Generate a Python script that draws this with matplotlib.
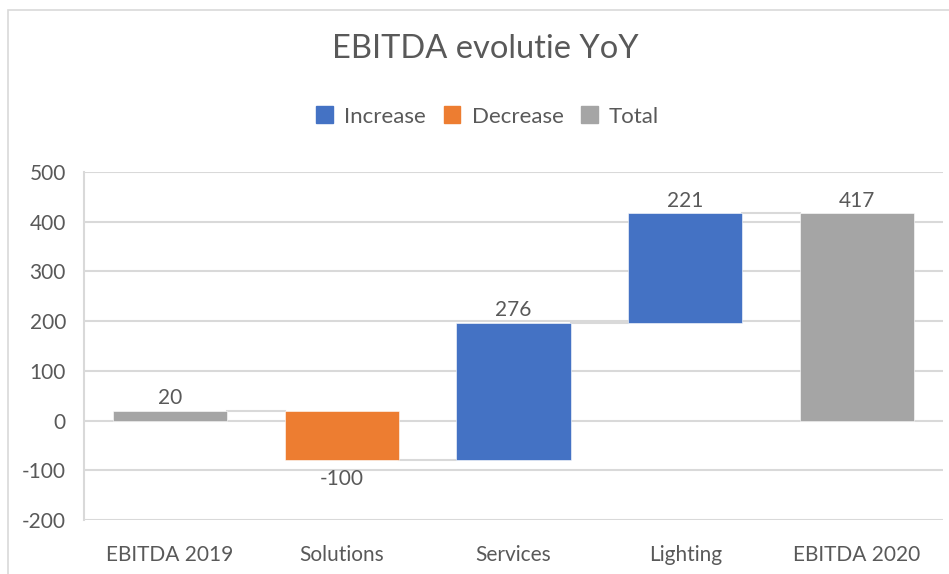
import matplotlib

matplotlib.use("Agg")
import matplotlib.pyplot as plt
from matplotlib.patches import Patch, Rectangle

# waterfall data
categorieen = ["EBITDA 2019", "Solutions", "Services", "Lighting", "EBITDA 2020"]
waarden = [20, -100, 276, 221, 417]
soorten = ["total", "decrease", "increase", "increase", "total"]

kleuren = {"increase": "#4472C4", "decrease": "#ED7D31", "total": "#A5A5A5"}
tekstkleur = "#595959"
lijnkleur = "#D9D9D9"

plt.rcParams["font.family"] = ["Lato", "DejaVu Sans"]
plt.rcParams["axes.unicode_minus"] = False

figuur = plt.figure(figsize=(9.49, 5.74), dpi=100)
eje = figuur.add_axes([0.0885, 0.0941, 0.9052, 0.6062])

# bottoms / tops from running total
onder, boven = [], []
stand = 0
for waarde, soort in zip(waarden, soorten):
    if soort == "total":
        onder.append(0)
        boven.append(waarde)
        stand = waarde
    else:
        nieuw = stand + waarde
        onder.append(min(stand, nieuw))
        boven.append(max(stand, nieuw))
        stand = nieuw

breedte = 0.665
x = list(range(len(categorieen)))
for i, soort in enumerate(soorten):
    eje.bar(x[i], boven[i] - onder[i], bottom=onder[i], width=breedte,
            color=kleuren[soort], edgecolor="white", linewidth=0.4, zorder=3)

# connector lines
stand = 0
for i in range(len(waarden) - 1):
    if soorten[i] == "total":
        stand = waarden[i]
    else:
        stand = stand + waarden[i]
    eje.plot([x[i] + breedte / 2, x[i + 1] - breedte / 2], [stand, stand],
             color=lijnkleur, linewidth=1.5, zorder=2)

# data labels
for i, waarde in enumerate(waarden):
    if waarde < 0:
        eje.annotate(f"{waarde}", (x[i], onder[i]), xytext=(0, -6),
                     textcoords="offset points", ha="center", va="top",
                     fontsize=15, color=tekstkleur)
    else:
        eje.annotate(f"{waarde}", (x[i], boven[i]), xytext=(0, 2),
                     textcoords="offset points", ha="center", va="bottom",
                     fontsize=15, color=tekstkleur)

eje.set_xlim(-0.5, len(categorieen) - 0.5)
eje.set_ylim(-200, 500)
eje.set_yticks(range(-200, 501, 100))
eje.set_xticks(x)
eje.set_xticklabels(categorieen)
eje.yaxis.grid(True, color=lijnkleur, linewidth=1.5, zorder=0)
eje.tick_params(axis="both", length=0, labelsize=15, labelcolor=tekstkleur)
eje.tick_params(axis="y", pad=13)
eje.tick_params(axis="x", pad=18)
for kant in ["top", "right", "bottom"]:
    eje.spines[kant].set_visible(False)
eje.spines["left"].set_color(lijnkleur)
eje.spines["left"].set_linewidth(1.5)

figuur.text(0.511, 0.914, "EBITDA evolutie YoY", ha="center", va="center",
            fontsize=23.5, color=tekstkleur)

handvatten = [Patch(color=kleuren["increase"], label="Increase"),
              Patch(color=kleuren["decrease"], label="Decrease"),
              Patch(color=kleuren["total"], label="Total")]
figuur.legend(handles=handvatten, loc="center", bbox_to_anchor=(0.514, 0.797),
              ncol=3, frameon=False, fontsize=16, labelcolor=tekstkleur,
              handlelength=0.75, handleheight=0.8, handletextpad=0.5,
              columnspacing=0.8)

# outer chart border
figuur.patches.append(Rectangle((8 / 949, -0.1), 1.2, 1.1 - 10 / 574,
                                transform=figuur.transFigure, fill=False,
                                edgecolor=lijnkleur, linewidth=1.2))

figuur.savefig("out.png", dpi=100)
plt.close(figuur)
